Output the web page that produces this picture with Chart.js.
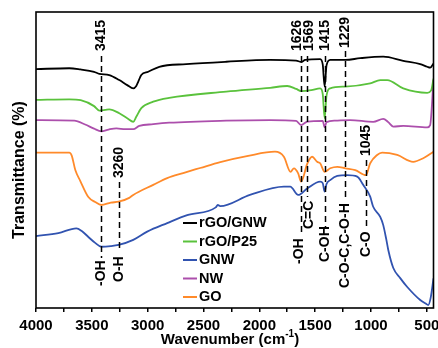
<!DOCTYPE html>
<html>
<head>
<meta charset="utf-8">
<script src="https://cdn.jsdelivr.net/npm/chart.js@4.4.0/dist/chart.umd.min.js"></script>
<style>
  body { margin: 0; background: #fff; }
</style>
</head>
<body>
<canvas id="ftir" width="438" height="348"></canvas>
<script>
// wavenumber (cm-1) / transmittance (arb. units, curves offset)
const gnwRgoX = [4000, 3702, 3603, 3480, 3433, 3344, 3254, 3183, 3129, 3102, 3084, 3057, 2995, 2896, 2654, 2296, 1902, 1670, 1626, 1589, 1455, 1432, 1415, 1398, 1365, 1229, 1096, 890, 711, 559, 496, 470, 440];
const gnwRgoY = [80.7, 81.0, 80.6, 79.8, 79.1, 78.7, 77.0, 75.3, 74.2, 75.0, 76.5, 78.7, 79.8, 81.5, 82.4, 83.2, 83.8, 83.6, 83.1, 83.8, 84.1, 82.3, 74.8, 82.0, 83.8, 83.8, 84.4, 84.9, 83.5, 82.4, 81.5, 81.2, 82.6];

const p25RgoX = [4000, 3702, 3600, 3480, 3433, 3380, 3344, 3254, 3180, 3129, 3102, 3057, 2950, 2807, 2296, 1902, 1750, 1670, 1626, 1535, 1455, 1432, 1415, 1398, 1365, 1229, 1007, 917, 854, 711, 496, 461, 440];
const p25RgoY = [70.3, 70.5, 70.2, 68.2, 66.7, 66.9, 67.1, 65.8, 64.0, 62.9, 64.6, 67.5, 69.7, 71.0, 73.1, 74.4, 75.0, 74.0, 73.3, 73.6, 74.2, 72.3, 64.1, 71.8, 74.2, 74.8, 75.9, 77.0, 77.0, 74.2, 72.7, 73.5, 77.5];

const gnwX = [4000, 3800, 3639, 3590, 3531, 3470, 3415, 3330, 3260, 3129, 3004, 2825, 2646, 2390, 2372, 2350, 2084, 1780, 1723, 1652, 1571, 1455, 1432, 1415, 1398, 1365, 1302, 1213, 1123, 1070, 1007, 980, 917, 890, 862, 845, 800, 738, 675, 559, 510, 487, 465, 440];
const gnwY = [24.3, 25.3, 26.9, 26.0, 24.0, 22.0, 20.7, 20.9, 21.3, 23.0, 25.8, 28.7, 31.4, 34.0, 34.8, 34.4, 38.2, 41.0, 41.0, 38.2, 40.4, 42.7, 42.2, 39.3, 41.9, 43.2, 44.6, 44.9, 44.4, 41.6, 37.6, 34.2, 30.8, 28.0, 23.0, 19.6, 13.5, 10.1, 7.1, 2.7, 1.5, 1.0, 3.5, 10.0];

const nwX = [4000, 3657, 3560, 3480, 3415, 3350, 3280, 3200, 3129, 3075, 2950, 2807, 2296, 1902, 1670, 1626, 1569, 1432, 1415, 1398, 1320, 1186, 980, 890, 845, 800, 711, 496, 470, 440];
const nwY = [63.5, 63.3, 62.0, 60.6, 59.7, 60.3, 60.7, 60.4, 60.4, 61.5, 62.1, 62.6, 63.3, 63.5, 63.2, 61.8, 63.0, 63.2, 61.0, 62.8, 63.3, 63.5, 62.9, 63.9, 62.8, 61.3, 61.5, 61.0, 61.8, 77.0];

const goX = [4000, 3702, 3680, 3648, 3603, 3531, 3470, 3415, 3330, 3260, 3165, 3129, 2950, 2825, 2682, 2530, 2350, 2100, 1860, 1780, 1720, 1690, 1652, 1626, 1569, 1527, 1482, 1455, 1415, 1365, 1302, 1229, 1141, 1045, 1007, 945, 900, 765, 622, 532, 440];
const goY = [52.5, 52.5, 51.5, 46.6, 42.9, 37.5, 35.8, 34.8, 35.6, 35.9, 37.2, 38.2, 41.6, 43.9, 45.6, 47.3, 49.3, 51.4, 52.8, 51.1, 46.0, 47.2, 45.5, 42.7, 48.9, 51.1, 49.4, 48.9, 46.0, 47.2, 47.7, 47.2, 46.6, 44.9, 48.9, 51.7, 52.5, 51.7, 49.4, 50.6, 52.8];

const sampleNames = ['rGO/GNW', 'rGO/P25', 'GNW', 'NW', 'GO'];
const xTickValues = [4000, 3750, 3500, 3250, 3000, 2750, 2500, 2250, 2000, 1750, 1500, 1250, 1000, 750, 500];

// marked bands
const peakWn = [3415, 3260, 1626, 1569, 1415, 1229, 1045];
const peakText = ['3415', '3260', '1626', '1569', '1415', '1229', '1045'];
const bondText = ['-OH', 'O-H', '-OH', 'C=C', 'C-OH', 'C-O-C,C-O-H', 'C-O'];

const font = 'Arial, "Liberation Sans", sans-serif';

function pts(xs, ys) {
    return xs.map((w, i) => ({ x: w, y: ys[i] }));
}

// label layout (canvas px): dash top/bottom, bottom end of the rotated number and bond text, small x nudges
const peakLayout = {
    dashTop: [56, 182, 56, 56, 56, 51, 160],
    dashBottom: [258, 252, 233, 197, 227, 200, 229],
    numBottom: [51, 178, 51, 51, 51, 48, 156],
    bondBottom: [286, 282, 264, 229, 262, 288, 257],
    numDx: [0, 0, -4, 2, 0, 0, 0],
    bondDx: [0, 0, -2, 2, 0, 0, 0]
};

function rotText(ctx, txt, x, y) {
    ctx.save();
    ctx.translate(x, y);
    ctx.rotate(-Math.PI / 2);
    ctx.textAlign = 'left';
    ctx.textBaseline = 'middle';
    ctx.fillText(txt, 0, 0);
    ctx.restore();
}

const decorations = {
    id: 'decorations',
    afterDatasetsDraw(chart) {
        const ctx = chart.ctx;
        const xs = chart.scales.x;
        ctx.save();
        ctx.strokeStyle = '#000';
        ctx.fillStyle = '#000';
        ctx.lineWidth = 1.5;
        ctx.font = 'bold 14px ' + font;
        peakWn.forEach((w, i) => {
            const px = Math.round(xs.getPixelForValue(w)) + 0.5;
            ctx.setLineDash([6, 4]);
            ctx.beginPath();
            ctx.moveTo(px, peakLayout.dashTop[i]);
            ctx.lineTo(px, peakLayout.dashBottom[i]);
            ctx.stroke();
            ctx.setLineDash([]);
            rotText(ctx, peakText[i], px + peakLayout.numDx[i], peakLayout.numBottom[i]);
            rotText(ctx, bondText[i], px + peakLayout.bondDx[i], peakLayout.bondBottom[i]);
        });
        ctx.restore();
    },
    afterDraw(chart) {
        const ctx = chart.ctx;
        const a = chart.chartArea;
        ctx.save();
        // frame
        ctx.strokeStyle = '#000';
        ctx.lineWidth = 1.6;
        ctx.strokeRect(a.left, a.top, a.right - a.left, a.bottom - a.top);

        // legend
        ctx.font = 'bold 14.5px ' + font;
        ctx.textAlign = 'left';
        ctx.textBaseline = 'middle';
        chart.data.datasets.forEach((ds, i) => {
            const y = 223 + i * 18.5;
            ctx.strokeStyle = ds.borderColor;
            ctx.lineWidth = 2;
            ctx.beginPath();
            ctx.moveTo(183, y);
            ctx.lineTo(197, y);
            ctx.stroke();
            ctx.fillStyle = '#000';
            ctx.fillText(ds.label, 199, y);
        });

        // axis titles
        ctx.fillStyle = '#000';
        ctx.font = 'bold 16px ' + font;
        ctx.save();
        ctx.translate(20, 170);
        ctx.rotate(-Math.PI / 2);
        ctx.textAlign = 'center';
        ctx.fillText('Transmittance (%)', 0, 0);
        ctx.restore();

        const main = 'Wavenumber (cm';
        const sup = '-1';
        const close = ')';
        ctx.font = 'bold 15px ' + font;
        const w1 = ctx.measureText(main).width;
        const w3 = ctx.measureText(close).width;
        ctx.font = 'bold 10px ' + font;
        const w2 = ctx.measureText(sup).width;
        let x = 230 - (w1 + w2 + w3) / 2;
        const y = 340;
        ctx.textAlign = 'left';
        ctx.font = 'bold 15px ' + font;
        ctx.fillText(main, x, y);
        x += w1;
        ctx.font = 'bold 10px ' + font;
        ctx.fillText(sup, x, y - 6);
        x += w2;
        ctx.font = 'bold 15px ' + font;
        ctx.fillText(close, x, y);
        ctx.restore();
    }
};

const ctx = document.getElementById('ftir').getContext('2d');
const chart = new Chart(ctx, {
    type: 'line',
    data: {
        datasets: [
            { label: sampleNames[0], data: pts(gnwRgoX, gnwRgoY), borderColor: '#000000' },
            { label: sampleNames[1], data: pts(p25RgoX, p25RgoY), borderColor: '#5ac23c' },
            { label: sampleNames[2], data: pts(gnwX, gnwY), borderColor: '#3153b0' },
            { label: sampleNames[3], data: pts(nwX, nwY), borderColor: '#ac4fac' },
            { label: sampleNames[4], data: pts(goX, goY), borderColor: '#ff8a2a' }
        ]
    },
    options: {
        responsive: false,
        animation: false,
        devicePixelRatio: 1,
        layout: { padding: { top: 12, right: 4.5, left: 0, bottom: 0 } },
        elements: {
            point: { radius: 0 },
            line: { borderWidth: 1.8, fill: false, cubicInterpolationMode: 'monotone' }
        },
        plugins: {
            legend: { display: false },
            tooltip: { enabled: false }
        },
        scales: {
            x: {
                type: 'linear',
                reverse: true,
                min: 440,
                max: 4000,
                afterFit: (s) => {
                    s.height = 40;
                    // let the "500" label run off the edge like in the original
                    s.paddingLeft = 0;
                    s.paddingRight = 0;
                },
                afterBuildTicks: (s) => { s.ticks = xTickValues.map(v => ({ value: v })); },
                border: { display: false },
                grid: { drawOnChartArea: false, drawTicks: true, tickLength: 4, color: '#000', lineWidth: 1.5 },
                ticks: {
                    color: '#000',
                    padding: 5,
                    autoSkip: false,
                    maxRotation: 0,
                    font: { family: font, size: 15, weight: 'bold' },
                    callback: (v) => v % 500 === 0 ? String(v) : ''
                }
            },
            y: {
                min: 0,
                max: 100,
                afterFit: (s) => { s.width = 36; },
                border: { display: false },
                grid: { display: false },
                ticks: { display: false }
            }
        }
    },
    plugins: [decorations]
});
</script>
</body>
</html>
